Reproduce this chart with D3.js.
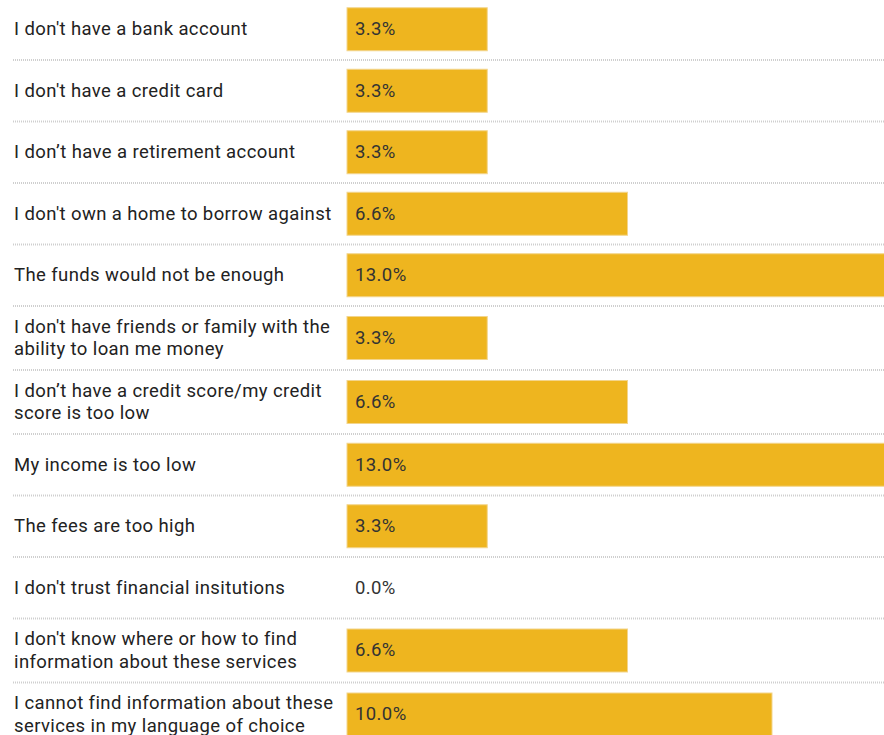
<!DOCTYPE html>
<html>
<head>
<meta charset="utf-8">
<script src="https://cdn.jsdelivr.net/npm/d3@7"></script>
<style>
  html, body { margin: 0; padding: 0; background: #fff; overflow: hidden; }
  svg { display: block; font-family: Roboto, "Noto Sans", sans-serif; }
</style>
</head>
<body>
<div id="chart"></div>
<script>
// one entry per row, "\n" marks where the label wraps
var categories = [
  "I don't have a bank account",
  "I don't have a credit card",
  "I don\u2019t have a retirement account",
  "I don't own a home to borrow against",
  "The funds would not be enough",
  "I don't have friends or family with the\nability to loan me money",
  "I don\u2019t have a credit score/my credit\nscore is too low",
  "My income is too low",
  "The fees are too high",
  "I don't trust financial insitutions",
  "I don't know where or how to find\ninformation about these services",
  "I cannot find information about these\nservices in my language of choice"
];

var values = [3.3, 3.3, 3.3, 6.6, 13.0, 3.3, 6.6, 13.0, 3.3, 0.0, 6.6, 10.0];

var width = 884, height = 735;
var barLeft = 347, barHeight = 43;
var oneLineRow = 61.5, twoLineRow = 64;

var svg = d3.select("#chart").append("svg")
            .attr("width", width)
            .attr("height", height);

var rows = categories.map(function (c, i) {
  var lines = c.split("\n");
  return { lines: lines, value: values[i], h: lines.length > 1 ? twoLineRow : oneLineRow };
});

// row tops from the running sum of row heights
var tops = [-1.5];
rows.forEach(function (r, i) { tops.push(tops[i] + r.h); });
rows.forEach(function (r, i) { r.top = tops[i]; r.mid = tops[i] + r.h / 2; });

var x = d3.scaleLinear().domain([0, 10]).range([0, 425]);
var fmt = d3.format(".1f");

// dotted separators under each row
svg.selectAll("line.sep")
   .data(rows.slice(0, -1))
   .enter()
   .append("line")
   .attr("class", "sep")
   .attr("x1", 13)
   .attr("x2", width)
   .attr("y1", function (d) { return d.top + d.h; })
   .attr("y2", function (d) { return d.top + d.h; })
   .style("stroke", "#cfcfcf")
   .style("stroke-width", 2)
   .style("stroke-dasharray", "1,1");

svg.selectAll("rect.bar")
   .data(rows.filter(function (d) { return d.value > 0; }))
   .enter()
   .append("rect")
   .attr("class", "bar")
   .attr("x", barLeft)
   .attr("y", function (d) { return d.mid - barHeight / 2; })
   .attr("width", function (d) { return x(d.value); })
   .attr("height", barHeight)
   .style("fill", "#EEB51F")
   .style("stroke", "#f3d58c")
   .style("stroke-width", 1);

svg.selectAll("text.val")
   .data(rows)
   .enter()
   .append("text")
   .attr("class", "val")
   .attr("x", barLeft + 8)
   .attr("y", function (d) { return d.mid - 0.5; })
   .attr("dy", "0.35em")
   .style("font-size", "18.5px")
   .style("letter-spacing", "0.4px")
   .style("fill", "#333")
   .text(function (d) { return fmt(d.value) + "%"; });

var labels = svg.selectAll("text.lab")
   .data(rows)
   .enter()
   .append("text")
   .attr("class", "lab")
   .attr("x", 14)
   .attr("y", function (d) { return d.mid - 0.5; })
   .style("font-size", "18.5px")
   .style("letter-spacing", "0.4px")
   .style("fill", "#222");

labels.selectAll("tspan")
   .data(function (d) { return d.lines.map(function (l, j) { return { t: l, j: j, n: d.lines.length }; }); })
   .enter()
   .append("tspan")
   .attr("x", 14)
   .attr("dy", function (d) { return d.j === 0 ? (0.35 - (d.n - 1) * 0.62) + "em" : "1.24em"; })
   .text(function (d) { return d.t; });
</script>
</body>
</html>
